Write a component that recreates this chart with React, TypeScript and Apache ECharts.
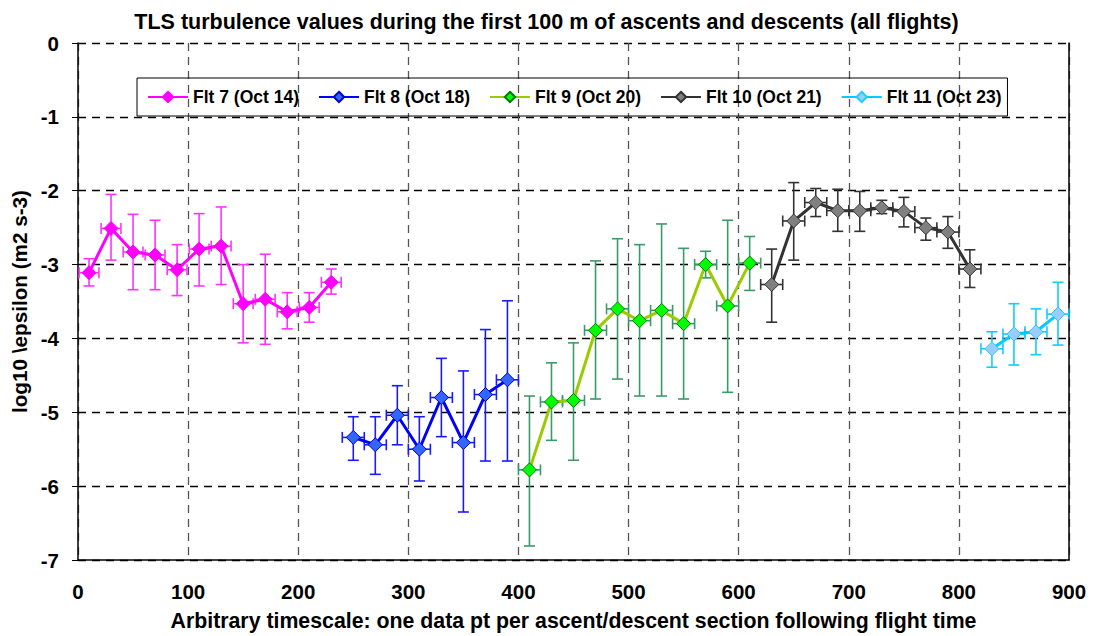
import React, { useEffect, useRef } from "react";
import * as echarts from "echarts";

// ---- Data ----
const flt7X = [10, 30, 50, 70, 90, 110, 130, 150, 170, 190, 210, 230];
const flt7Y = [-3.11, -2.51, -2.83, -2.87, -3.07, -2.79, -2.75, -3.53, -3.47, -3.64, -3.58, -3.24];
const flt7Hi = [-2.92, -2.05, -2.32, -2.40, -2.73, -2.31, -2.22, -3.00, -2.86, -3.38, -3.38, -3.06];
const flt7Lo = [-3.29, -2.94, -3.34, -3.34, -3.42, -3.29, -3.27, -4.06, -4.08, -3.87, -3.78, -3.40];

const flt8X = [250, 270, 290, 310, 330, 350, 370, 390];
const flt8Y = [-5.34, -5.44, -5.04, -5.50, -4.80, -5.41, -4.76, -4.56];
const flt8Hi = [-5.06, -5.06, -4.64, -5.06, -4.27, -4.44, -3.88, -3.49];
const flt8Lo = [-5.65, -5.84, -5.44, -5.93, -5.33, -6.35, -5.66, -5.66];

const flt9X = [410, 430, 450, 470, 490, 510, 530, 550, 570, 590, 610];
const flt9Y = [-5.78, -4.86, -4.84, -3.89, -3.60, -3.76, -3.62, -3.80, -3.00, -3.56, -2.98];
const flt9Hi = [-4.78, -4.33, -4.06, -2.95, -2.65, -2.73, -2.45, -2.78, -2.82, -2.40, -2.62];
const flt9Lo = [-6.81, -5.38, -5.65, -4.82, -4.55, -4.78, -4.78, -4.82, -3.18, -4.73, -3.35];

const flt10X = [630, 650, 670, 690, 710, 730, 750, 770, 790, 810];
const flt10Y = [-3.27, -2.41, -2.16, -2.27, -2.27, -2.23, -2.28, -2.50, -2.56, -3.06];
const flt10Hi = [-2.79, -1.89, -1.97, -1.98, -2.01, -2.13, -2.09, -2.37, -2.35, -2.80];
const flt10Lo = [-3.78, -2.94, -2.35, -2.55, -2.55, -2.31, -2.49, -2.67, -2.78, -3.31];

const flt11X = [830, 850, 870, 890];
const flt11Y = [-4.14, -3.94, -3.91, -3.67];
const flt11Hi = [-3.91, -3.53, -3.60, -3.24];
const flt11Lo = [-4.39, -4.36, -4.22, -4.09];

const xHalfWidth = [9, 10, 10, 10, 10];
const flightNames = ["Flt 7 (Oct 14)", "Flt 8 (Oct 18)", "Flt 9 (Oct 20)", "Flt 10 (Oct 21)", "Flt 11 (Oct 23)"];

const flights = [
  { x: flt7X, y: flt7Y, hi: flt7Hi, lo: flt7Lo },
  { x: flt8X, y: flt8Y, hi: flt8Hi, lo: flt8Lo },
  { x: flt9X, y: flt9Y, hi: flt9Hi, lo: flt9Lo },
  { x: flt10X, y: flt10Y, hi: flt10Hi, lo: flt10Lo },
  { x: flt11X, y: flt11Y, hi: flt11Hi, lo: flt11Lo },
];

const styles = [
  { line: "#ff00ff", fill: "#ff00ff", border: "#ff00ff", err: "#ff33ff" },
  { line: "#0000ff", fill: "#3366ff", border: "#0000cc", err: "#1a1aff" },
  { line: "#99cc00", fill: "#00ff00", border: "#007a00", err: "#3a9a6a" },
  { line: "#333333", fill: "#808080", border: "#333333", err: "#333333" },
  { line: "#00ccff", fill: "#99ccff", border: "#22ccff", err: "#11ccff" },
];

const FONT = "'Liberation Sans', Arial, Helvetica, sans-serif";

export default function App() {
  const ref = useRef<HTMLDivElement>(null);
  useEffect(() => {
    if (!ref.current) return;
    const chart = echarts.init(ref.current, null, { renderer: "svg" });
    const series: any[] = [];
    flights.forEach((f, i) => {
      const st = styles[i];
      const errData = f.x.map((xv, k) => [xv, f.y[k], f.lo[k], f.hi[k], xHalfWidth[i]]);
      series.push({
        type: "custom",
        name: flightNames[i] + " err",
        z: 1,
        silent: true,
        data: errData,
        encode: { x: 0, y: [1, 2, 3] },
        renderItem: (params: any, api: any) => {
          const x = api.value(0), y = api.value(1), lo = api.value(2), hi = api.value(3), dx = api.value(4);
          const top = api.coord([x, hi]);
          const bot = api.coord([x, lo]);
          const l = api.coord([x - dx, y]);
          const r = api.coord([x + dx, y]);
          const c = 5.5;
          const s = { stroke: st.err, lineWidth: 1.6 };
          return {
            type: "group",
            children: [
              { type: "line", shape: { x1: top[0], y1: top[1], x2: bot[0], y2: bot[1] }, style: s },
              { type: "line", shape: { x1: top[0] - c, y1: top[1], x2: top[0] + c, y2: top[1] }, style: s },
              { type: "line", shape: { x1: bot[0] - c, y1: bot[1], x2: bot[0] + c, y2: bot[1] }, style: s },
              { type: "line", shape: { x1: l[0], y1: l[1], x2: r[0], y2: r[1] }, style: s },
              { type: "line", shape: { x1: l[0], y1: l[1] - c, x2: l[0], y2: l[1] + c }, style: s },
              { type: "line", shape: { x1: r[0], y1: r[1] - c, x2: r[0], y2: r[1] + c }, style: s },
            ],
          };
        },
      });
      series.push({
        type: "line",
        name: flightNames[i],
        z: 3,
        data: f.x.map((xv, k) => [xv, f.y[k]]),
        symbol: "diamond",
        symbolSize: [14, 14],
        showSymbol: true,
        lineStyle: { color: st.line, width: 3 },
        itemStyle: { color: st.fill, borderColor: st.border, borderWidth: 1 },
      });
    });

    chart.setOption({
      animation: false,
      backgroundColor: "#ffffff",
      textStyle: { fontFamily: FONT },
      title: {
        text: "TLS turbulence values during the first 100 m of ascents and descents (all flights)",
        left: "center",
        top: 6,
        textStyle: { fontFamily: FONT, fontWeight: "bold", fontSize: 21.5, color: "#000" },
      },
      legend: {
        data: flightNames,
        left: 137,
        top: 78,
        padding: [10, 6, 10, 10],
        itemGap: 19,
        itemWidth: 40,
        itemHeight: 13,
        borderColor: "#000",
        borderWidth: 1,
        textStyle: { fontFamily: FONT, fontWeight: "bold", fontSize: 17.5, color: "#000" },
      },
      grid: { left: 78, right: 24, top: 43, bottom: 76 },
      xAxis: {
        type: "value",
        min: 0,
        max: 900,
        interval: 100,
        name: "Arbitrary timescale: one data pt per ascent/descent section following flight time",
        nameLocation: "middle",
        nameGap: 50,
        nameTextStyle: { fontFamily: FONT, fontWeight: "bold", fontSize: 21.3, color: "#000" },
        axisLine: { show: true, onZero: false, lineStyle: { color: "#000", width: 1.5 } },
        axisTick: { show: false },
        axisLabel: { margin: 21, fontFamily: FONT, fontWeight: "bold", fontSize: 20.5, color: "#000" },
        splitLine: { show: true, lineStyle: { color: "#555", type: [8, 6], width: 1.3 } },
      },
      yAxis: [
        {
          type: "value",
          min: -7,
          max: 0,
          interval: 1,
          name: "log10 \\epsilon (m2 s-3)",
          nameLocation: "middle",
          nameGap: 36,
          nameRotate: 90,
          nameTextStyle: { fontFamily: FONT, fontWeight: "bold", fontSize: 20.7, color: "#000" },
          axisLine: { show: true, onZero: false, lineStyle: { color: "#000", width: 1.5 } },
          axisTick: { show: true, inside: false, length: 6, lineStyle: { color: "#000" } },
          axisLabel: { margin: 19, fontFamily: FONT, fontWeight: "bold", fontSize: 20.5, color: "#000" },
          splitLine: { show: true, lineStyle: { color: "#000", type: [8, 6], width: 1.3 } },
        },
        {
          type: "value",
          min: -7,
          max: 0,
          interval: 1,
          position: "right",
          axisLine: { show: true, onZero: false, lineStyle: { color: "#000", width: 1.5 } },
          axisTick: { show: false },
          axisLabel: { show: false },
          splitLine: { show: false },
        },
      ],
      series,
    });
    return () => chart.dispose();
  }, []);
  return <div ref={ref} style={{ width: 1093, height: 636, position: "absolute", left: 0, top: 0 }} />;
}
